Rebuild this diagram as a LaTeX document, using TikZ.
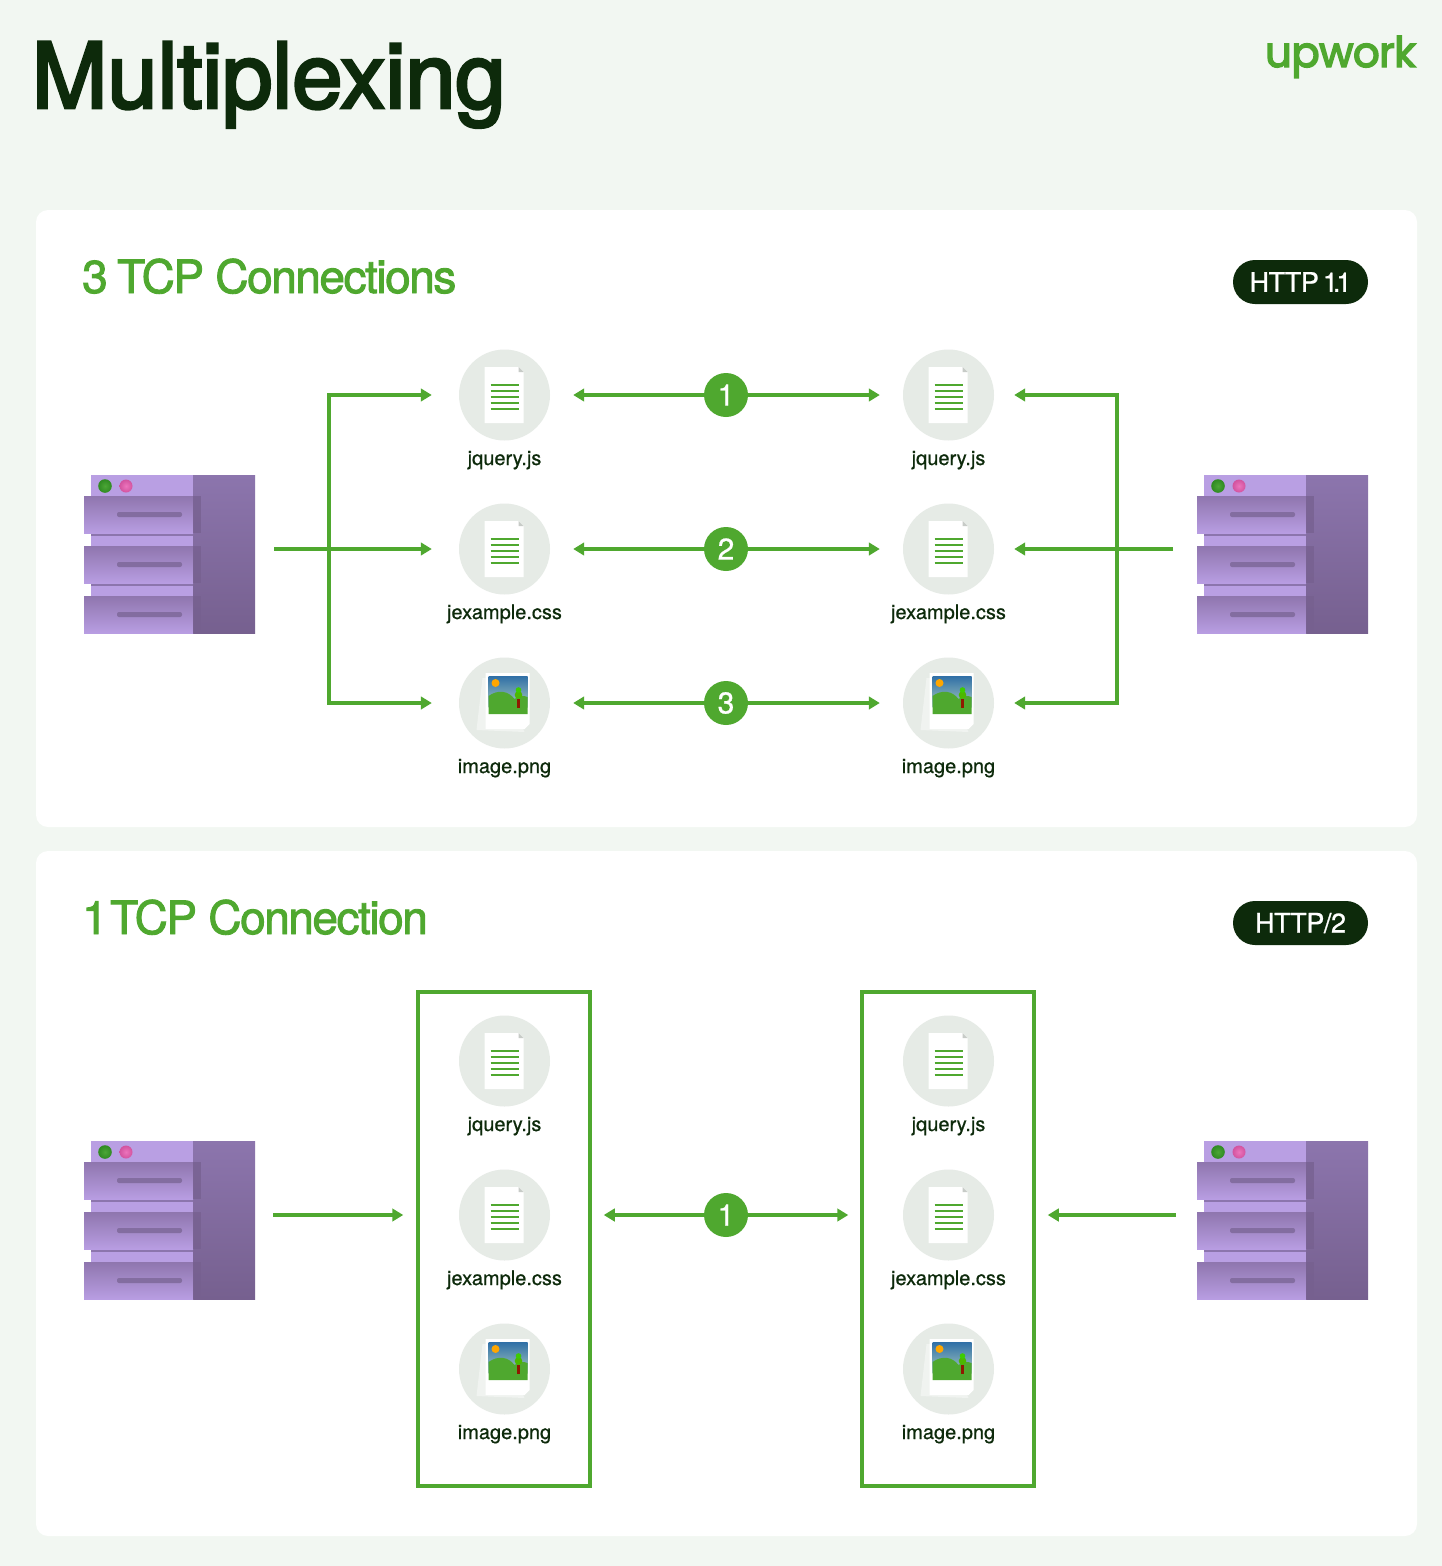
\documentclass[tikz,border=0pt]{standalone}
\usepackage{fontspec}
\setmainfont{TeX Gyre Heros}
\newfontfamily\titlefont[FakeBold=3,LetterSpace=-0.4]{TeX Gyre Heros}
\newfontfamily\headfont[FakeBold=1.9,LetterSpace=-3.2]{TeX Gyre Heros}
\newfontfamily\labelfont[FakeBold=0.7]{TeX Gyre Heros}
\newfontfamily\pillfont[FakeBold=0.9,LetterSpace=-1.5]{TeX Gyre Heros}
\newfontfamily\logofont[FakeBold=3.5,LetterSpace=-1.5]{Poppins}
\usetikzlibrary{arrows.meta}
\definecolor{bgc}{HTML}{F2F7F2}
\definecolor{gr}{HTML}{4FA82F}
\definecolor{dk}{HTML}{0D2A0B}
\definecolor{iconbgc}{HTML}{E6EBE6}
\definecolor{lav}{HTML}{B99FE3}
\definecolor{purp}{HTML}{8C75AD}
\definecolor{purpd}{HTML}{76608F}
\definecolor{drawtop}{HTML}{8F76AE}
\definecolor{drawbot}{HTML}{B89DE2}
\definecolor{skyt}{HTML}{2F6FA6}
\definecolor{skyb}{HTML}{A5C8C0}
\definecolor{pinki}{HTML}{EC74BC}
\definecolor{pinko}{HTML}{D2539F}
\definecolor{grni}{HTML}{4CA636}
\definecolor{grno}{HTML}{2F8A22}
\tikzset{
  panel/.style={fill=white,draw=none,rounded corners=12pt},
  iconbg/.style={circle,fill=iconbgc,draw=none,minimum size=91pt,inner sep=0pt},
  lbl/.style={anchor=base,inner sep=0pt,text=dk,font=\labelfont\fontsize{20}{24}\selectfont},
  conn/.style={draw=gr,line width=3.5pt},
  biarrow/.style={conn,{Triangle[length=11pt,width=12.5pt]}-{Triangle[length=11pt,width=12.5pt]}},
  onearrow/.style={conn,-{Triangle[length=11pt,width=12.5pt]}},
  badge/.style={circle,fill=gr,draw=none,minimum size=44pt,inner sep=0pt,text=white,font=\labelfont\fontsize{30}{32}\selectfont},
  pill/.style={rounded corners=22pt,fill=dk,text=white,minimum width=135pt,minimum height=44pt,inner sep=0pt,font=\pillfont\fontsize{27}{30}\selectfont},
  head/.style={anchor=base west,inner sep=0pt,text=gr,font=\headfont\fontsize{46}{50}\selectfont},
  holder/.style={draw=gr,line width=3.5pt,fill=none,minimum width=172pt,minimum height=494pt,inner sep=0pt},
  serverbox/.style={minimum width=171pt,minimum height=158pt,inner sep=0pt,draw=none},
}
\newcommand{\drawer}[1]{%
  \shade[top color=drawtop,bottom color=drawbot] (0,#1) rectangle (109,#1+37);
  \fill[purpd,opacity=.75] (109,#1) rectangle (117,#1+37);
  \fill[purpd!80!lav,rounded corners=2pt] (33,#1+16) rectangle (98,#1+21);
}
\newcommand{\server}[3]{%
  \node[serverbox,anchor=north west] (#1) at (#2,#3) {};
  \begin{scope}[shift={(#2,#3)}]
    \fill[lav] (7,0) rectangle (109,158);
    \shade[top color=purp,bottom color=purpd] (109,0) rectangle (171,158);
    \fill[purp] (7,58) rectangle (109,60.5);
    \fill[purp] (7,108) rectangle (109,110.5);
    \drawer{21}\drawer{71}\drawer{121}
    \shade[inner color=grni,outer color=grno] (21,11) circle (6.8);
    \shade[inner color=pinki,outer color=pinko] (42,11) circle (6.5);
  \end{scope}}
\newcommand{\docicon}[4]{%
  \node[iconbg] (#1) at (#2,#3) {};
  \node[lbl] (#1-l) at (#2,#3+70) {#4};
  \begin{scope}[shift={(#2,#3)}]
    \fill[white] (-20,-28) -- (14,-28) -- (19,-23) -- (19,28) -- (-20,28) -- cycle;
    \fill[iconbgc!70!gray] (14,-28) -- (14,-23) -- (19,-23) -- cycle;
    \foreach \yy in {-10,-4,2,8,14}
      \draw[gr,line width=1.2pt] (-14,\yy) -- (14,\yy);
  \end{scope}}
\newcommand{\imgicon}[4]{%
  \node[iconbg] (#1) at (#2,#3) {};
  \node[lbl] (#1-l) at (#2,#3+70) {#4};
  \begin{scope}[shift={(#2,#3)}]
    \fill[white,opacity=.4] (-22,-25) -- (-4,-25) -- (20,29) -- (-28,27) -- cycle;
    \fill[white] (-19,-30) -- (25,-30) -- (25,21) -- (20,26) -- (-19,26) -- cycle;
    \shade[top color=skyt,bottom color=skyb] (-16,-27) rectangle (23,4);
    \fill[gr] (-16,-7) .. controls (-6,-14) and (4,-12) .. (10,-4) .. controls (14,-7) and (19,-8) .. (23,-6) -- (23,11) -- (-16,11) -- cycle;
    \fill[orange!70!yellow] (-9,-20) circle (4);
    \fill[red!45!black!80!orange] (12.5,-4) rectangle (15,5);
    \fill[green!60!black!70!yellow] (14,-8) circle (3.8);
    \fill[green!70!yellow!80!black] (14,-13) circle (2.8);
  \end{scope}}
\begin{document}
\begin{tikzpicture}[x=1pt,y=-1pt]
\useasboundingbox (0,0) rectangle (1442,1566);
\fill[bgc] (0,0) rectangle (1442,1566);
\node[anchor=base west,inner sep=0pt,text=dk,font=\titlefont\fontsize{91}{94}\selectfont] (title) at (31.5,108) {Multiplexing};
\node[anchor=base east,inner sep=0pt,text=gr,font=\logofont\fontsize{42}{44}\selectfont] (logo) at (1416,67) {upwork};
\fill[panel] (36,210) rectangle (1417,827);
\fill[panel] (36,851) rectangle (1417,1536);
% top panel
\node[head] (h1) at (82,293) {3\kern-2pt\ TCP Connections};
\node[pill] (p1) at (1300.5,282) {HTTP\kern-3pt\ 1\kern-5pt.\kern-4pt1};
\server{s1}{84}{475}\server{s2}{1197}{475}
\docicon{a1}{504.5}{395}{jquery.js}
\docicon{a2}{504.5}{549}{jexample.css}
\imgicon{a3}{504.5}{703}{image.png}
\docicon{b1}{948.5}{395}{jquery.js}
\docicon{b2}{948.5}{549}{jexample.css}
\imgicon{b3}{948.5}{703}{image.png}
\node[badge] (n1) at (726,395) {1};
\node[badge] (n2) at (726,549) {2};
\node[badge] (n3) at (726,703) {3};
\coordinate (jl) at (329,549);
\coordinate (jr) at (1117,549);
\draw[biarrow,shorten <=27pt,shorten >=27pt] (a1) -| (jl) |- (a3);
\draw[biarrow,shorten <=20pt,shorten >=20pt] (b1) -| (jr) |- (b3);
\draw[onearrow,shorten <=19pt,shorten >=27pt] (s1.east |- a2) -- (a2);
\draw[onearrow,shorten <=-1pt,shorten >=20pt] (s2.west |- b2) ++(-25,0) coordinate (s2in) -- (b2);
\foreach \i in {1,2,3}{
  \draw[onearrow,shorten >=23pt] (n\i) -- (a\i);
  \draw[onearrow,shorten >=23pt] (n\i) -- (b\i);
}
% bottom panel
\node[head] (h2) at (82,934) {1\kern-9pt\ TCP Connection};
\node[pill] (p2) at (1300.5,923) {HTTP/2};
\server{s3}{84}{1141}\server{s4}{1197}{1141}
\node[holder] (ba) at (504,1239) {};
\node[holder] (bb) at (948,1239) {};
\docicon{c1}{504.5}{1061}{jquery.js}
\docicon{c2}{504.5}{1215}{jexample.css}
\imgicon{c3}{504.5}{1369}{image.png}
\docicon{d1}{948.5}{1061}{jquery.js}
\docicon{d2}{948.5}{1215}{jexample.css}
\imgicon{d3}{948.5}{1369}{image.png}
\node[badge] (n4) at (726,1215) {1};
\coordinate (aim) at (504,1215);
\draw[onearrow,shorten <=18pt,shorten >=13pt] (s3.east |- aim) -- (ba.west |- aim);
\draw[onearrow,shorten >=12pt] (n4) -- (ba.east |- aim);
\draw[onearrow,shorten >=12pt] (n4) -- (bb.west |- aim);
\draw[onearrow,shorten <=21pt,shorten >=12pt] (s4.west |- aim) -- (bb.east |- aim);
\end{tikzpicture}
\end{document}
